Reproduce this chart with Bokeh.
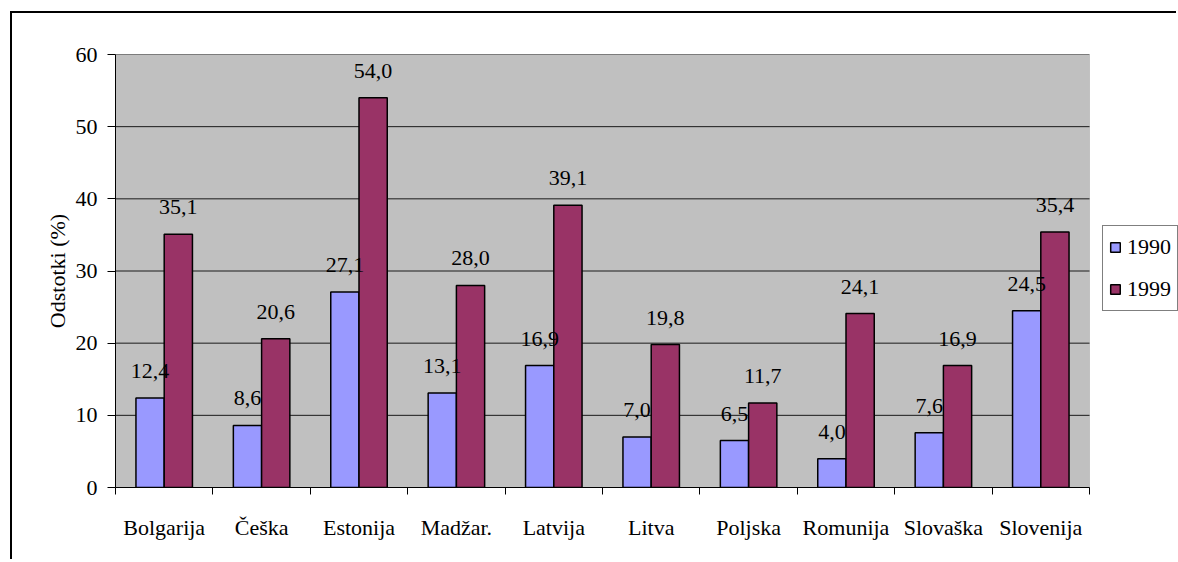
import numpy as np
from bokeh.plotting import figure
from bokeh.models import Range1d, FixedTicker, Legend, LegendItem, ColumnDataSource, BoxAnnotation
from bokeh.core.properties import value
from bokeh.embed import file_html
from bokeh.resources import INLINE

categories = ["Bolgarija", "Češka", "Estonija", "Madžar.", "Latvija",
              "Litva", "Poljska", "Romunija", "Slovaška", "Slovenija"]
series_names = ["1990", "1999"]
values_1990 = [12.4, 8.6, 27.1, 13.1, 16.9, 7.0, 6.5, 4.0, 7.6, 24.5]
values_1999 = [35.1, 20.6, 54.0, 28.0, 39.1, 19.8, 11.7, 24.1, 16.9, 35.4]
y_ticks = [0, 10, 20, 30, 40, 50, 60]
y_label = "Odstotki (%)"

FONT = "Liberation Serif"
FS = "22px"
C1990 = "#9999FF"
C1999 = "#993366"
BAR_W = 0.29

n = len(categories)
centers = np.arange(n) + 0.5
boundaries = list(range(n + 1))

# canvas geometry (px)
W, H = 1166, 548
LEFT, TOP, BOTTOM = 103, 41, 74
PLOT_W = 974                     # width of the grey plot area
FRAME_W = W - LEFT               # frame runs to the canvas edge (legend lives there)
x_end = n * FRAME_W / PLOT_W

def fmt(v):
    return f"{v:.1f}".replace(".", ",")

src90 = ColumnDataSource(dict(x=centers - BAR_W / 2, top=values_1990,
                              lbl=[fmt(v) for v in values_1990]))
src99 = ColumnDataSource(dict(x=centers + BAR_W / 2, top=values_1999,
                              lbl=[fmt(v) for v in values_1999]))

p = figure(width=W, height=H,
           x_range=Range1d(0, x_end), y_range=Range1d(0, y_ticks[-1]),
           output_backend="svg", toolbar_location=None,
           min_border_left=LEFT, min_border_right=0,
           min_border_top=TOP, min_border_bottom=BOTTOM)
p.styles = {"margin-left": "10px", "margin-top": "11px",
            "border-left": "2px solid black", "border-top": "2px solid black"}

p.background_fill_color = "white"
p.border_fill_color = "white"
p.outline_line_color = None
p.xgrid.visible = False
p.ygrid.visible = False

# grey plot area
p.add_layout(BoxAnnotation(left=0, right=n, bottom=0, top=y_ticks[-1],
                           fill_color="#C0C0C0", fill_alpha=1,
                           line_color="#808080", line_width=1, level="image"))

# horizontal gridlines limited to the plot area
gl = p.segment(x0=[0] * len(y_ticks), x1=[n] * len(y_ticks), y0=y_ticks, y1=y_ticks,
               line_color="#1a1a1a", line_width=1)
gl.level = "underlay"

r1 = p.vbar(x="x", top="top", width=BAR_W, bottom=0, source=src90,
            fill_color=C1990, line_color="black", line_width=1.5)
r2 = p.vbar(x="x", top="top", width=BAR_W, bottom=0, source=src99,
            fill_color=C1999, line_color="black", line_width=1.5)

for src in (src90, src99):
    p.text(x="x", y="top", text="lbl", source=src,
           text_font=value(FONT), text_font_size=FS, text_color="black",
           text_align="center", text_baseline="alphabetic", y_offset=-27)

# x axis: labels at category centers, ticks at category boundaries
xa = p.xaxis[0]
xa.bounds = (0, n)
xa.ticker = FixedTicker(ticks=list(centers), minor_ticks=boundaries)
xa.major_label_overrides = {float(c): name for c, name in zip(centers, categories)}
xa.major_tick_out = 0
xa.major_tick_in = 0
xa.minor_tick_out = 7
xa.minor_tick_in = 0
xa.minor_tick_line_color = "black"
xa.axis_line_color = "black"
xa.major_label_text_font = FONT
xa.major_label_text_font_size = FS
xa.major_label_text_color = "black"
xa.major_label_standoff = 20

ya = p.yaxis[0]
ya.ticker = FixedTicker(ticks=y_ticks)
ya.major_tick_out = 8
ya.major_tick_in = 0
ya.minor_tick_line_color = None
ya.axis_line_color = "black"
ya.major_tick_line_color = "black"
ya.major_label_text_font = FONT
ya.major_label_text_font_size = FS
ya.major_label_text_color = "black"
ya.major_label_standoff = 10
ya.axis_label = y_label
ya.axis_label_text_font = FONT
ya.axis_label_text_font_size = FS
ya.axis_label_text_font_style = "normal"
ya.axis_label_text_color = "black"
ya.axis_label_standoff = 3

legend = Legend(items=[LegendItem(label=series_names[0], renderers=[r1]),
                       LegendItem(label=series_names[1], renderers=[r2])],
                location=(987, 176))
legend.label_text_font = FONT
legend.label_text_font_size = FS
legend.label_text_color = "black"
legend.glyph_width = 12
legend.glyph_height = 12
legend.label_height = 30
legend.label_standoff = 6
legend.spacing = 12
legend.padding = 6
legend.margin = 0
legend.border_line_color = "black"
legend.border_line_width = 1
legend.background_fill_color = "white"
legend.background_fill_alpha = 1
p.add_layout(legend)

open("out.html", "w").write(file_html(p, INLINE))
